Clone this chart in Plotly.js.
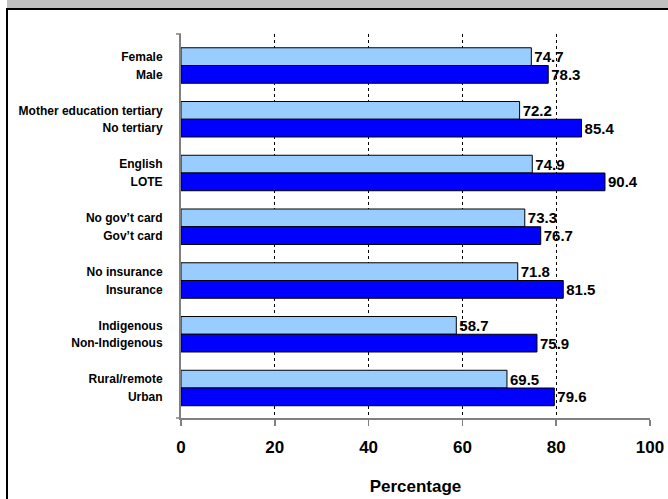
<!DOCTYPE html>
<html>
<head>
<meta charset="utf-8">
<script src="https://cdn.plot.ly/plotly-3.0.1.min.js"></script>
<style>
  html, body { margin: 0; padding: 0; background: #ffffff; }
  #chart { width: 668px; height: 499px; }
</style>
</head>
<body>
<div id="chart"></div>
<script>
// First bar of each pair (light blue) and second bar (dark blue), top to bottom
var lightLabels = ['Female', 'Mother education tertiary', 'English', 'No gov\u2019t card', 'No insurance', 'Indigenous', 'Rural/remote'];
var lightValues = [74.7, 72.2, 74.9, 73.3, 71.8, 58.7, 69.5];
var darkLabels = ['Male', 'No tertiary', 'LOTE', 'Gov\u2019t card', 'Insurance', 'Non-Indigenous', 'Urban'];
var darkValues = [78.3, 85.4, 90.4, 76.7, 81.5, 75.9, 79.6];
var xTicks = [0, 20, 40, 60, 80, 100];

// Each pair sits around an integer slot; the two bars straddle it
var HALF = 0.165;
var slots = lightLabels.map(function (_, i) { return i; });
var lightPos = slots.map(function (i) { return i - HALF; });
var darkPos = slots.map(function (i) { return i + HALF; });

var FONT = 'Arial, "Liberation Sans", Helvetica, sans-serif';

function barTrace(values, pos, colour) {
  return {
    type: 'bar',
    orientation: 'h',
    x: values,
    y: pos,
    width: 2 * HALF,
    marker: { color: colour, line: { color: '#000000', width: 1 } },
    texttemplate: '<b>%{x:.1f}</b>',
    textposition: 'outside',
    constraintext: 'none',
    cliponaxis: false,
    textfont: { family: FONT, size: 15, color: '#000000' },
    hoverinfo: 'skip'
  };
}

var traces = [
  barTrace(lightValues, lightPos, '#99CCFF'),
  barTrace(darkValues, darkPos, '#0000FF')
];

// Tick labels sit beside each individual bar
var tickVals = [], tickText = [];
slots.forEach(function (i) {
  tickVals.push(lightPos[i], darkPos[i]);
  tickText.push('<b>' + lightLabels[i] + '</b>', '<b>' + darkLabels[i] + '</b>');
});

// Plot area in pixels
var W = 668, H = 499;
var L = 181, R = 18, T = 34, B = 81;
var pw = W - L - R, ph = H - T - B;
function px(x) { return (x - L) / pw; }
function py(y) { return (H - B - y) / ph; }

var shapes = [
  // grey header band and frame lines
  { type: 'rect', xref: 'paper', yref: 'paper', x0: px(7), x1: px(W + 2), y0: py(8), y1: py(-2),
    fillcolor: '#C0C0C0', line: { width: 0 } },
  { type: 'line', xref: 'paper', yref: 'paper', x0: px(6), x1: px(W + 2), y0: py(9), y1: py(9),
    line: { color: '#000000', width: 2 } },
  { type: 'line', xref: 'paper', yref: 'paper', x0: px(7), x1: px(7), y0: py(8), y1: py(H + 2),
    line: { color: '#000000', width: 2 } },
  // category axis end ticks
  { type: 'line', xref: 'paper', yref: 'paper', x0: px(176), x1: 0, y0: 1, y1: 1,
    line: { color: '#808080', width: 1.5 } },
  { type: 'line', xref: 'paper', yref: 'paper', x0: px(176), x1: 0, y0: 0, y1: 0,
    line: { color: '#808080', width: 1.5 } }
];

var layout = {
  width: W,
  height: H,
  margin: { l: L, r: R, t: T, b: B, pad: 0 },
  paper_bgcolor: '#ffffff',
  plot_bgcolor: '#ffffff',
  showlegend: false,
  barmode: 'overlay',
  font: { family: FONT, color: '#000000' },
  xaxis: {
    range: [0, 100],
    tickvals: xTicks,
    ticktext: xTicks.map(function (v) { return '<b>' + v + '</b>'; }),
    tickfont: { family: FONT, size: 17, color: '#000000' },
    ticks: 'outside',
    ticklen: 6,
    tickwidth: 1.5,
    tickcolor: '#808080',
    ticklabelstandoff: 7,
    showline: true,
    linecolor: '#808080',
    linewidth: 1.5,
    showgrid: true,
    gridcolor: '#000000',
    gridwidth: 1,
    griddash: 'dot',
    zeroline: false,
    fixedrange: true,
    automargin: false,
    title: { text: '<b>Percentage</b>', font: { family: FONT, size: 17, color: '#000000' }, standoff: 24 }
  },
  yaxis: {
    range: [6.558, -0.586],
    tickvals: tickVals,
    ticktext: tickText,
    tickfont: { family: FONT, size: 12, color: '#000000' },
    ticks: '',
    ticklabelstandoff: 14,
    showline: true,
    linecolor: '#808080',
    linewidth: 2,
    showgrid: false,
    zeroline: false,
    fixedrange: true,
    automargin: false
  },
  shapes: shapes
};

Plotly.newPlot('chart', traces, layout, { staticPlot: true, displayModeBar: false });
</script>
</body>
</html>
